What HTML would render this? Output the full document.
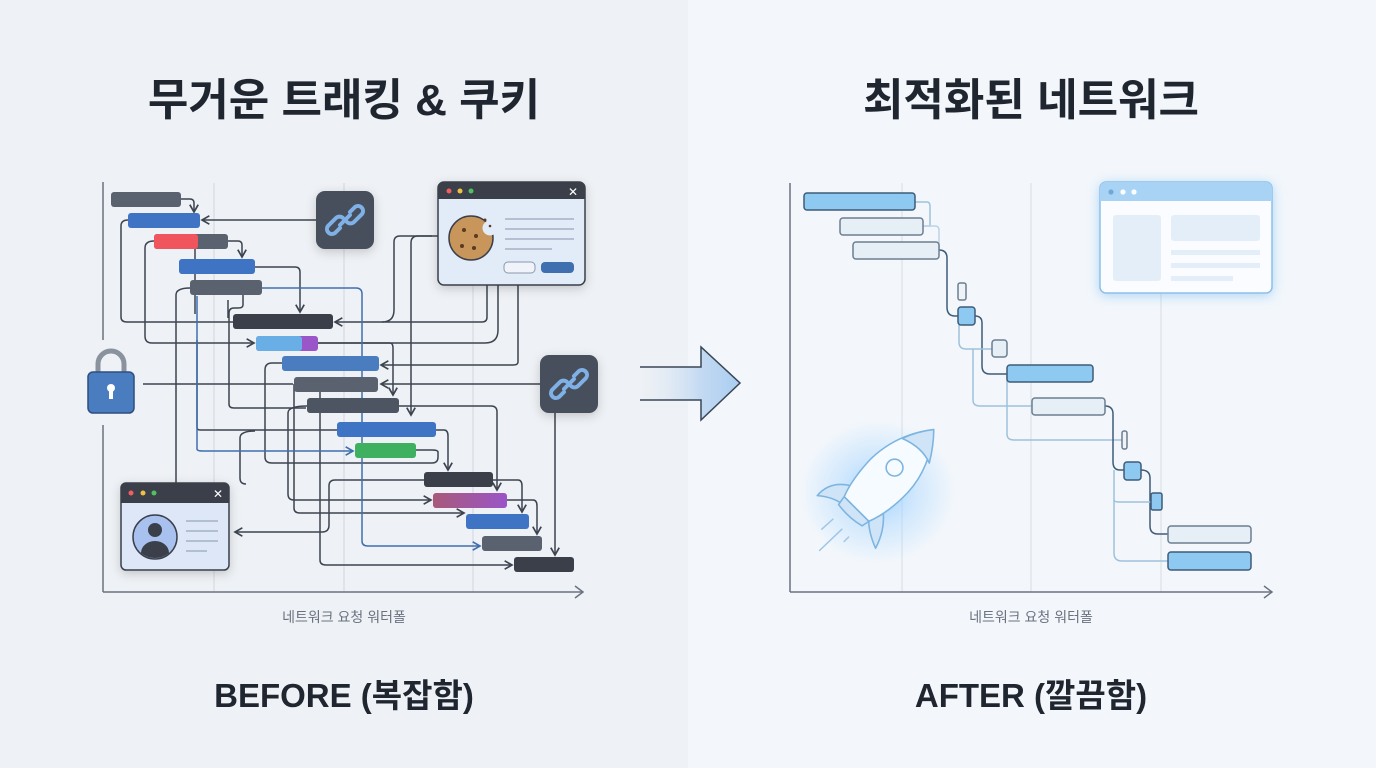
<!DOCTYPE html>
<html><head><meta charset="utf-8"><style>
html,body{margin:0;padding:0;width:1376px;height:768px;overflow:hidden;background:#eef1f5}
svg{display:block}
text{font-family:"Liberation Sans","Noto Sans CJK KR",sans-serif}
</style></head><body>
<svg width="1376" height="768" viewBox="0 0 1376 768" xmlns="http://www.w3.org/2000/svg">
<defs>
<linearGradient id="ag" x1="0" x2="1" y1="0" y2="0"><stop offset="0" stop-color="#dfe9f5" stop-opacity="0"/><stop offset="0.6" stop-color="#c4daf2"/><stop offset="1" stop-color="#a9cdf0"/></linearGradient>
<linearGradient id="pg" x1="0" x2="1"><stop offset="0" stop-color="#a85a7a"/><stop offset="1" stop-color="#9a55c8"/></linearGradient>
<radialGradient id="glow"><stop offset="0" stop-color="#8ccaff" stop-opacity="0.85"/><stop offset="0.5" stop-color="#a8d6ff" stop-opacity="0.45"/><stop offset="1" stop-color="#a8d6ff" stop-opacity="0"/></radialGradient>
<filter id="sh" x="-30%" y="-30%" width="160%" height="160%"><feDropShadow dx="0" dy="3" stdDeviation="5" flood-color="#000" flood-opacity="0.18"/></filter>
<filter id="bsh" x="-30%" y="-30%" width="160%" height="160%"><feDropShadow dx="0" dy="2" stdDeviation="6" flood-color="#5aaaf0" flood-opacity="0.45"/></filter>
<marker id="ah" viewBox="0 0 10 10" refX="8" refY="5" markerWidth="7" markerHeight="7" orient="auto"><path d="M1,1 L8,5 L1,9" fill="none" stroke="#3c4450" stroke-width="1.6"/></marker>
<marker id="ahb" viewBox="0 0 10 10" refX="8" refY="5" markerWidth="7" markerHeight="7" orient="auto"><path d="M1,1 L8,5 L1,9" fill="none" stroke="#3f6fae" stroke-width="1.6"/></marker>
</defs>
<rect x="0" y="0" width="688" height="768" fill="#eef1f5"/>
<rect x="688" y="0" width="688" height="768" fill="#f3f7fb"/>

<text x="344" y="115" text-anchor="middle" font-size="44" font-weight="bold" fill="#1f2630">무거운 트래킹 &amp; 쿠키</text>
<text x="1031" y="115" text-anchor="middle" font-size="44" font-weight="bold" fill="#1f2630">최적화된 네트워크</text>
<text x="344" y="622" text-anchor="middle" font-size="14" fill="#6a7280">네트워크 요청 워터폴</text>
<text x="1031" y="622" text-anchor="middle" font-size="14" fill="#6a7280">네트워크 요청 워터폴</text>
<text x="344" y="707" text-anchor="middle" font-size="33" font-weight="bold" fill="#1f2630">BEFORE (복잡함)</text>
<text x="1031" y="707" text-anchor="middle" font-size="33" font-weight="bold" fill="#1f2630">AFTER (깔끔함)</text>

<g stroke="#d2d7de" stroke-width="1"><line x1="214" y1="183" x2="214" y2="592"/><line x1="344" y1="183" x2="344" y2="592"/><line x1="473" y1="183" x2="473" y2="592"/></g>
<g stroke="#6a7280" stroke-width="1.5" fill="none"><line x1="103" y1="182" x2="103" y2="340"/><line x1="103" y1="425" x2="103" y2="592"/><line x1="103" y1="592" x2="583" y2="592"/><path d="M575,586 L583,592 L575,598"/></g>

<g fill="none" stroke="#3c4450" stroke-width="1.5">
<path d="M181,199 H190 Q194,199 194,203 V212" marker-end="url(#ah)"/>
<path d="M316,220 H202" marker-end="url(#ah)"/>
<path d="M128,220 Q121,220 121,226 V317 Q121,322 127,322 H233"/>
<path d="M228,241 H238 Q242,241 242,245 V257" marker-end="url(#ah)"/>
<path d="M154,241 Q145,241 145,248 V336 Q145,343 152,343 H254" marker-end="url(#ah)"/>
<path d="M195,249 V314"/>
<path d="M255,267 H295 Q300,267 300,272 V312" marker-end="url(#ah)"/>
<path d="M190,288 Q176,288 176,295 V483"/>
<path d="M243,295 V305 Q243,308 238,308 H234 Q229,308 229,313 V404 Q229,408 234,408 H306"/>
<path d="M228,300 V318"/>
<path d="M487,285 V317 Q487,322 482,322 H335" marker-end="url(#ah)"/>
<path d="M438,236 H400 Q394,236 394,242 V310 Q394,322 382,322"/>
<path d="M432,236 H418 Q411,236 411,243 V415" marker-end="url(#ah)"/>
<path d="M498,285 V330 Q498,343 485,343 H318"/>
<path d="M518,285 V362 Q518,365 513,365 H381" marker-end="url(#ah)"/>
<path d="M318,343 H390 Q393,343 393,348 V395" marker-end="url(#ah)"/>
<path d="M143,384 H293"/>
<path d="M540,384 H381" marker-end="url(#ah)"/>
<path d="M282,363 H272 Q265,363 265,370 V457 Q265,463 272,463 H432 Q438,463 438,457 V452 Q438,450 432,450 H416"/>
<path d="M399,406 H491 Q497,406 497,412 V490" marker-end="url(#ah)"/>
<path d="M436,430 H444 Q448,430 448,436 V470" marker-end="url(#ah)"/>
<path d="M255,431 Q240,431 240,438 V478 Q240,484 246,484"/>
<path d="M307,406 Q288,406 288,413 V494 Q288,500 294,500 H431" marker-end="url(#ah)"/>
<path d="M337,430 H200 Q197,430 197,427 V340"/>
<path d="M294,384 V508 Q294,513 300,513 H464" marker-end="url(#ah)"/>
<path d="M320,392 V560 Q320,565 326,565 H512" marker-end="url(#ah)"/>
<path d="M424,480 H335 Q329,480 329,486 V525 Q329,532 322,532 H235" marker-end="url(#ah)"/>
<path d="M493,480 H518 Q522,480 522,486 V512" marker-end="url(#ah)"/>
<path d="M507,500 H533 Q537,500 537,506 V534" marker-end="url(#ah)"/>
<path d="M555,413 V555" marker-end="url(#ah)"/>
</g>
<g fill="none" stroke="#3f6fae" stroke-width="1.5">
<path d="M262,288 H356 Q362,288 362,294 V541 Q362,546 368,546 H480" marker-end="url(#ahb)"/>
<path d="M197,296 V449 Q197,451 203,451 H353" marker-end="url(#ahb)"/>
</g>

<g>
<rect x="111" y="192" width="70" height="15" rx="3" fill="#5a6270"/>
<rect x="128" y="213" width="72" height="15" rx="3" fill="#3f74c4"/>
<rect x="154" y="234" width="74" height="15" rx="3" fill="#5a6270"/>
<rect x="154" y="234" width="44" height="15" rx="3" fill="#f0555e"/>
<rect x="179" y="259" width="76" height="15" rx="3" fill="#3f74c4"/>
<rect x="190" y="280" width="72" height="15" rx="3" fill="#5a6270"/>
<rect x="233" y="314" width="100" height="15" rx="3" fill="#3a3f4a"/>
<rect x="256" y="336" width="62" height="15" rx="3" fill="#9a55c8"/>
<rect x="256" y="336" width="46" height="15" rx="3" fill="#6aaee6"/>
<rect x="282" y="356" width="97" height="15" rx="3" fill="#4a7cc0"/>
<rect x="294" y="377" width="84" height="15" rx="3" fill="#5a6270"/>
<rect x="307" y="398" width="92" height="15" rx="3" fill="#4e5562"/>
<rect x="337" y="422" width="99" height="15" rx="3" fill="#3f74c4"/>
<rect x="355" y="443" width="61" height="15" rx="3" fill="#3fb060"/>
<rect x="424" y="472" width="69" height="15" rx="3" fill="#3a3f4a"/>
<rect x="433" y="493" width="74" height="15" rx="3" fill="url(#pg)"/>
<rect x="466" y="514" width="63" height="15" rx="3" fill="#3f74c4"/>
<rect x="482" y="536" width="60" height="15" rx="3" fill="#5a6270"/>
<rect x="514" y="557" width="60" height="15" rx="3" fill="#3a3f4a"/>
</g>

<g filter="url(#sh)">
<rect x="316" y="191" width="58" height="58" rx="9" fill="#474f5b"/>
<rect x="540" y="355" width="58" height="58" rx="9" fill="#474f5b"/>
</g>
<g fill="none" stroke="#7fb0e6" stroke-width="4" stroke-linecap="round">
<path d="M340,228 l-5,5 a5,5 0 0 1 -7,-7 l8,-8 a5,5 0 0 1 7,0"/>
<path d="M350,212 l5,-5 a5,5 0 0 1 7,7 l-8,8 a5,5 0 0 1 -7,0"/>
<path d="M340,225 L350,215"/>
<path d="M564,392 l-5,5 a5,5 0 0 1 -7,-7 l8,-8 a5,5 0 0 1 7,0"/>
<path d="M574,376 l5,-5 a5,5 0 0 1 7,7 l-8,8 a5,5 0 0 1 -7,0"/>
<path d="M564,389 L574,379"/>
</g>

<g>
<path d="M98,372 V364 a13,13 0 0 1 26,0 V372" fill="none" stroke="#8a929e" stroke-width="5"/>
<rect x="88" y="372" width="46" height="41" rx="5" fill="#4a7cc0" stroke="#2f4e80" stroke-width="1.5"/>
<circle cx="111" cy="388" r="4" fill="#fff"/><rect x="109" y="390" width="4" height="9" fill="#fff"/>
</g>

<g filter="url(#sh)"><rect x="438" y="182" width="147" height="103" rx="6" fill="#e2ebf8" stroke="#3a3f4a" stroke-width="1.5"/></g>
<path d="M438,199 V188 a6,6 0 0 1 6,-6 H579 a6,6 0 0 1 6,6 V199 Z" fill="#3a3f4a"/>
<circle cx="449" cy="191" r="2.5" fill="#f06060"/><circle cx="460" cy="191" r="2.5" fill="#f0c040"/><circle cx="471" cy="191" r="2.5" fill="#50c060"/>
<text x="573" y="196" font-size="12" fill="#fff" text-anchor="middle">✕</text>
<circle cx="471" cy="238" r="22" fill="#c8955a" stroke="#3a3f4a" stroke-width="1.5"/>
<circle cx="490" cy="228" r="7.5" fill="#e2ebf8"/>
<g fill="#5a3a20"><circle cx="464" cy="230" r="2"/><circle cx="476" cy="236" r="2"/><circle cx="462" cy="246" r="2"/><circle cx="474" cy="248" r="2"/><circle cx="485" cy="220" r="1.5"/><circle cx="490" cy="226" r="1.3"/></g>
<g stroke="#a4b2c4" stroke-width="1.5"><line x1="505" y1="219" x2="574" y2="219"/><line x1="505" y1="229" x2="574" y2="229"/><line x1="505" y1="239" x2="574" y2="239"/><line x1="505" y1="249" x2="552" y2="249"/></g>
<rect x="504" y="262" width="31" height="11" rx="4" fill="#f0f4fa" stroke="#8a98aa"/>
<rect x="541" y="262" width="33" height="11" rx="4" fill="#3f6fae"/>

<g filter="url(#sh)"><rect x="121" y="483" width="108" height="87" rx="5" fill="#dde7f7" stroke="#3a3f4a" stroke-width="1.5"/></g>
<path d="M121,503 V488 a5,5 0 0 1 5,-5 H224 a5,5 0 0 1 5,5 V503 Z" fill="#3a3f4a"/>
<circle cx="131" cy="493" r="2.5" fill="#f06060"/><circle cx="143" cy="493" r="2.5" fill="#f0c040"/><circle cx="154" cy="493" r="2.5" fill="#50c060"/>
<text x="218" y="498" font-size="12" fill="#fff" text-anchor="middle">✕</text>
<circle cx="155" cy="537" r="22" fill="#a9c1ee" stroke="#3a3f4a" stroke-width="1.5"/>
<circle cx="155" cy="530" r="7" fill="#3a3f4a"/>
<path d="M141,553 a14,12 0 0 1 28,0 a22,22 0 0 1 -28,0Z" fill="#3a3f4a"/>
<g stroke="#a4b2c4" stroke-width="1.5"><line x1="186" y1="521" x2="218" y2="521"/><line x1="186" y1="531" x2="218" y2="531"/><line x1="186" y1="541" x2="218" y2="541"/><line x1="186" y1="551" x2="207" y2="551"/></g>

<path d="M640,367 H701 V347 L740,383 L701,420 V400 H640 Z" fill="url(#ag)"/>
<path d="M640,367 H701 V347 L740,383 L701,420 V400 H640" fill="none" stroke="#3a4656" stroke-width="1.5"/>

<g stroke="#d6dde5" stroke-width="1"><line x1="902" y1="183" x2="902" y2="592"/><line x1="1031" y1="183" x2="1031" y2="592"/><line x1="1161" y1="290" x2="1161" y2="592"/></g>
<g stroke="#6a7280" stroke-width="1.5" fill="none"><line x1="790" y1="183" x2="790" y2="592"/><line x1="790" y1="592" x2="1272" y2="592"/><path d="M1264,586 L1272,592 L1264,598"/></g>

<g fill="none" stroke-width="1.5">
<path d="M915,202 H927 Q930,202 930,206 V226 H923" stroke="#9fc2dc"/>
<path d="M923,226 H935 Q939,226 939,230 V250" stroke="#b9d4e8"/>
<path d="M939,250 Q947,250 947,258 V307 Q947,316 955,316 H958" stroke="#3e5c78"/>
<path d="M975,316 Q982,316 982,323 V366 Q982,374 990,374 H1007" stroke="#3e5c78"/>
<path d="M959,325 V342 Q959,349 966,349 H992" stroke="#9fc2dc"/>
<path d="M973,349 V400 Q973,406 980,406 H1032" stroke="#9fc2dc"/>
<path d="M1007,374 V434 Q1007,440 1014,440 H1122" stroke="#9fc2dc"/>
<path d="M1105,406 Q1113,406 1113,414 V462 Q1113,470 1120,470 H1124" stroke="#3e5c78"/>
<path d="M1141,470 Q1150,470 1150,478 V526 Q1150,534 1158,534 H1168" stroke="#3e5c78"/>
<path d="M1114,470 V500 Q1114,502 1120,502 H1151" stroke="#9fc2dc"/>
<path d="M1114,500 V553 Q1114,561 1122,561 H1168" stroke="#9fc2dc"/>
</g>

<g stroke-width="1.5">
<rect x="804" y="193" width="111" height="17" rx="3" fill="#8ec9f2" stroke="#3e5c78"/>
<rect x="840" y="218" width="83" height="17" rx="3" fill="#e6eef6" stroke="#6c7e90"/>
<rect x="853" y="242" width="86" height="17" rx="3" fill="#e6eef6" stroke="#6c7e90"/>
<rect x="958" y="283" width="8" height="17" rx="2" fill="#eef3f8" stroke="#6c7e90"/>
<rect x="958" y="307" width="17" height="18" rx="3" fill="#8ec9f2" stroke="#3e5c78"/>
<rect x="992" y="340" width="15" height="17" rx="3" fill="#e6eef6" stroke="#6c7e90"/>
<rect x="1007" y="365" width="86" height="17" rx="3" fill="#8ec9f2" stroke="#3e5c78"/>
<rect x="1032" y="398" width="73" height="17" rx="3" fill="#e6eef6" stroke="#6c7e90"/>
<rect x="1122" y="431" width="5" height="18" rx="2" fill="#eef3f8" stroke="#6c7e90"/>
<rect x="1124" y="462" width="17" height="18" rx="3" fill="#8ec9f2" stroke="#3e5c78"/>
<rect x="1151" y="493" width="11" height="17" rx="2" fill="#8ec9f2" stroke="#3e5c78"/>
<rect x="1168" y="526" width="83" height="17" rx="3" fill="#e6eef6" stroke="#6c7e90"/>
<rect x="1168" y="552" width="83" height="18" rx="3" fill="#8ec9f2" stroke="#3e5c78"/>
</g>

<g filter="url(#bsh)"><rect x="1100" y="182" width="172" height="111" rx="6" fill="#fafcff" stroke="#8cc0ea" stroke-width="1.5"/></g>
<path d="M1100,201 V188 a6,6 0 0 1 6,-6 H1266 a6,6 0 0 1 6,6 V201 Z" fill="#a9d3f5"/>
<circle cx="1111" cy="192" r="2.6" fill="#6fa9d8"/><circle cx="1123" cy="192" r="2.6" fill="#fff"/><circle cx="1134" cy="192" r="2.6" fill="#fff"/>
<rect x="1113" y="215" width="48" height="66" rx="3" fill="#e3eef9"/>
<rect x="1171" y="215" width="89" height="26" rx="3" fill="#e3eef9"/>
<rect x="1171" y="250" width="89" height="5" fill="#e3eef9"/>
<rect x="1171" y="263" width="89" height="5" fill="#e3eef9"/>
<rect x="1171" y="276" width="62" height="5" fill="#e3eef9"/>

<ellipse cx="878" cy="492" rx="78" ry="72" fill="url(#glow)"/>
<g transform="translate(880,490) scale(1.12) translate(-880,-490)">
<g fill="#f6fbff" stroke="#7db4e0" stroke-width="1.4" stroke-linejoin="round">
<path d="M853,486 Q835,482 824,495 Q838,496 847,503 Z" fill="#cfe5f7"/>
<path d="M883,511 Q884,527 876,542 Q870,528 870,518 Z" fill="#cfe5f7"/>
<path d="M928,436 Q895,440 872,462 Q855,480 848,496 L870,518 Q888,510 905,492 Q925,470 928,436 Z"/>
<path d="M928,436 Q912,438 900,444 Q918,452 924,466 Q928,450 928,436Z" fill="#cfe5f7"/>
<path d="M848,496 L843,503 Q852,515 864,522 L870,518 Z" fill="#cfe5f7"/>
<circle cx="893" cy="470" r="7.5"/>
</g>
<g stroke="#9cc6e8" stroke-width="1.3" stroke-linecap="round"><line x1="838" y1="516" x2="828" y2="525"/><line x1="846" y1="525" x2="826" y2="544"/><line x1="852" y1="532" x2="848" y2="536"/></g>
</g>
</svg>
</body></html>
